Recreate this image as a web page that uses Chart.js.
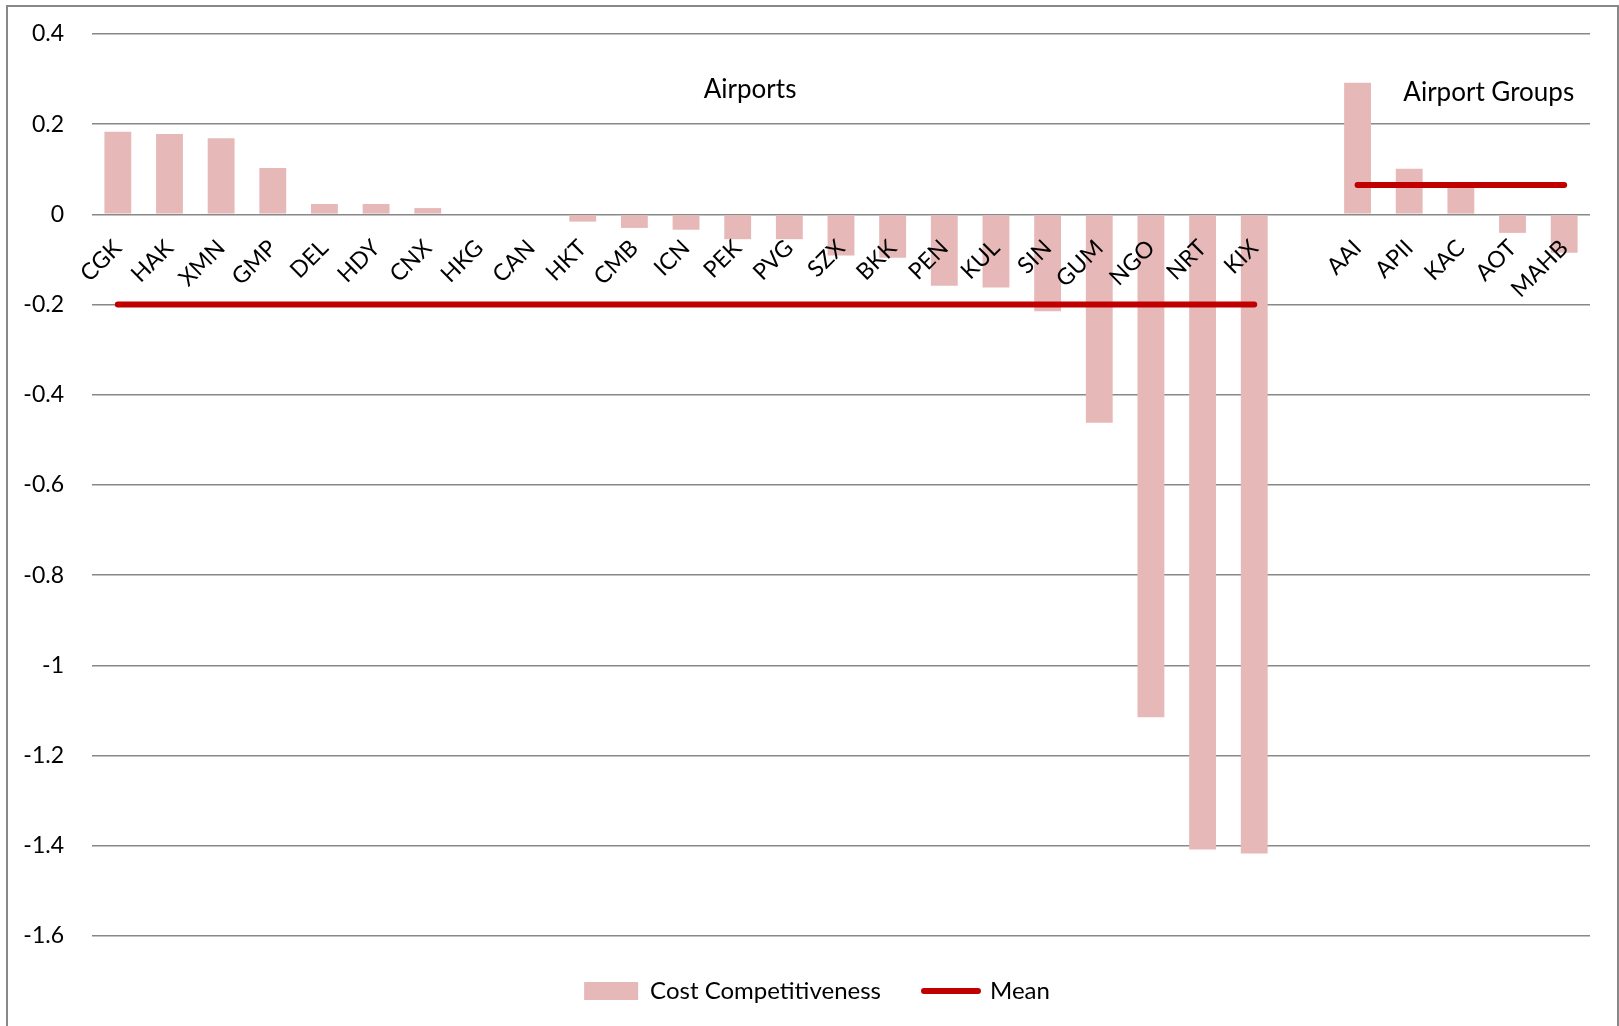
<!DOCTYPE html>
<html>
<head>
<meta charset="utf-8">
<script src="https://cdn.jsdelivr.net/npm/chart.js@4.4.1/dist/chart.umd.min.js"></script>
<style>
  html, body { margin: 0; padding: 0; background: #ffffff; }
  #wrap { width: 1619px; height: 1026px; position: relative; }
</style>
</head>
<body>
<div id="wrap"><canvas id="chart"></canvas></div>
<script>
// Individual airports, ranked by cost competitiveness
const airportCodes = ['CGK', 'HAK', 'XMN', 'GMP', 'DEL', 'HDY', 'CNX', 'HKG', 'CAN', 'HKT', 'CMB', 'ICN',
  'PEK', 'PVG', 'SZX', 'BKK', 'PEN', 'KUL', 'SIN', 'GUM', 'NGO', 'NRT', 'KIX'];
const airportScores = [0.183, 0.178, 0.169, 0.103, 0.023, 0.023, 0.014, 0.0, -0.002, -0.016, -0.030, -0.034,
  -0.055, -0.055, -0.091, -0.096, -0.158, -0.162, -0.215, -0.462, -1.115, -1.408, -1.417];
const airportMean = -0.2;

// Airport operating groups
const groupCodes = ['AAI', 'APII', 'KAC', 'AOT', 'MAHB'];
const groupScores = [0.292, 0.101, 0.060, -0.041, -0.085];
const groupMean = 0.065;

// Value axis ticks
const yTicks = [0.4, 0.2, 0, -0.2, -0.4, -0.6, -0.8, -1, -1.2, -1.4, -1.6];

const barColor = '#e6b9b8';
const meanColor = '#c00000';
const gridColor = '#888888';

// One empty slot separates the two groups on the category axis
const labels = [...airportCodes, '', ...groupCodes];
const scoreData = [...airportScores, null, ...groupScores];
const meanData = [...airportCodes.map(() => airportMean), null, ...groupCodes.map(() => groupMean)];

Chart.defaults.font.family = 'Lato, "Open Sans", sans-serif';
Chart.defaults.color = '#000000';

const framePlugin = {
  id: 'frame',
  beforeDraw(chart) {
    const ctx = chart.ctx;
    ctx.save();
    ctx.fillStyle = '#ffffff';
    ctx.fillRect(0, 0, chart.width, chart.height);
    ctx.strokeStyle = gridColor;
    ctx.lineWidth = 2;
    ctx.strokeRect(7, 6, chart.width - 8, chart.height + 20);
    ctx.restore();
  }
};

// Centre the legend under the plot rather than under the whole canvas
const legendShiftPlugin = {
  id: 'legendShift',
  afterLayout(chart) {
    const lg = chart.legend;
    if (lg) { lg.left += 18; lg.right += 18; }
  }
};

// Section headings placed in data space
const sectionTitles = [
  { text: 'Airports', x: 12.24, y: 0.259 },
  { text: 'Airport Groups', x: 26.54, y: 0.251 }
];
const titlesPlugin = {
  id: 'sectionTitles',
  afterDraw(chart) {
    const ctx = chart.ctx;
    const xs = chart.scales.x, ys = chart.scales.y;
    ctx.save();
    ctx.font = '26px Lato';
    ctx.fillStyle = '#000000';
    ctx.textAlign = 'center';
    ctx.textBaseline = 'alphabetic';
    sectionTitles.forEach(t => {
      ctx.fillText(t.text, xs.getPixelForValue(t.x), ys.getPixelForValue(t.y));
    });
    ctx.restore();
  }
};

new Chart(document.getElementById('chart'), {
  type: 'bar',
  data: {
    labels: labels,
    datasets: [
      {
        type: 'bar',
        label: 'Cost Competitiveness',
        data: scoreData,
        backgroundColor: barColor,
        borderWidth: 0,
        categoryPercentage: 1,
        barPercentage: 0.52,
        order: 1
      },
      {
        type: 'line',
        label: 'Mean',
        data: meanData,
        borderColor: meanColor,
        borderWidth: 6,
        borderCapStyle: 'round',
        pointRadius: 0,
        spanGaps: false,
        fill: false,
        order: 0
      }
    ]
  },
  options: {
    responsive: true,
    maintainAspectRatio: false,
    animation: false,
    layout: { padding: { left: 8, right: 29, top: 34, bottom: 13 } },
    scales: {
      x: {
        type: 'category',
        position: { y: 0 },
        grid: { display: false },
        border: { display: false },
        ticks: {
          z: 1,
          autoSkip: false,
          minRotation: 45,
          maxRotation: 45,
          padding: 12,
          font: { size: 23 },
          color: '#000000'
        }
      },
      y: {
        min: -1.6,
        max: 0.4,
        afterFit(scale) { scale.width = 84; },
        afterBuildTicks(scale) { scale.ticks = yTicks.map(v => ({ value: v })); },
        grid: { color: gridColor, lineWidth: 1.6, drawTicks: true, tickLength: 28, tickColor: 'rgba(0,0,0,0)' },
        border: { display: false },
        ticks: {
          padding: 0,
          font: { size: 23 },
          color: '#000000',
          callback: v => String(Math.round(v * 10) / 10)
        }
      }
    },
    plugins: {
      tooltip: { enabled: false },
      legend: {
        position: 'bottom',
        labels: {
          usePointStyle: true,
          pointStyleWidth: 54,
          boxHeight: 18,
          padding: 43,
          font: { size: 24 },
          color: '#000000',
          generateLabels: () => [
            { text: 'Cost Competitiveness', fillStyle: barColor, strokeStyle: barColor, lineWidth: 0,
              pointStyle: 'rect', datasetIndex: 0, fontColor: '#000000' },
            { text: 'Mean', fillStyle: meanColor, strokeStyle: meanColor, lineWidth: 6, lineCap: 'round',
              pointStyle: 'line', datasetIndex: 1, fontColor: '#000000' }
          ]
        }
      }
    }
  },
  plugins: [framePlugin, legendShiftPlugin, titlesPlugin]
});
</script>
</body>
</html>
